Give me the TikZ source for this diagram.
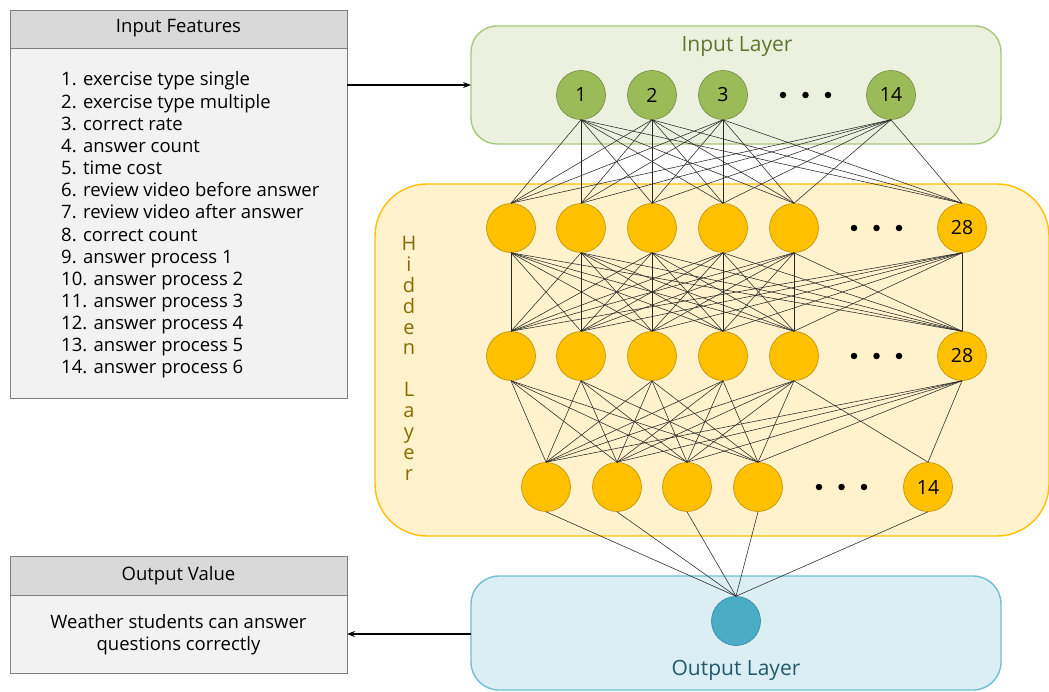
\documentclass[tikz,border=0pt]{standalone}
\usepackage{fontspec}
\setmainfont{Open Sans}
\usetikzlibrary{arrows.meta}
\definecolor{ibfill}{HTML}{EBF1DE}
\definecolor{ibdraw}{HTML}{A9C97A}
\definecolor{infill}{HTML}{9BBB59}
\definecolor{indraw}{HTML}{71893F}
\definecolor{ititle}{HTML}{5F7530}
\definecolor{hbfill}{HTML}{FFF2CC}
\definecolor{hbdraw}{HTML}{FFC000}
\definecolor{hnfill}{HTML}{FFC000}
\definecolor{hndraw}{HTML}{BF9000}
\definecolor{htitle}{HTML}{8A6A00}
\definecolor{obfill}{HTML}{DAEEF3}
\definecolor{obdraw}{HTML}{6FBFD5}
\definecolor{onfill}{HTML}{4BACC6}
\definecolor{ondraw}{HTML}{31859C}
\definecolor{otitle}{HTML}{215A6D}
\definecolor{grayhead}{HTML}{D9D9D9}
\definecolor{graybody}{HTML}{F2F2F2}
\definecolor{grayline}{HTML}{7F7F7F}
\tikzset{
  innode/.style={circle,minimum size=49pt,inner sep=0pt,fill=infill,draw=indraw,line width=0.6pt,font=\fontsize{19.5}{22}\selectfont},
  hnode/.style={circle,minimum size=49pt,inner sep=0pt,fill=hnfill,draw=hndraw,line width=0.6pt,font=\fontsize{19.5}{22}\selectfont},
  onode/.style={circle,minimum size=49pt,inner sep=0pt,fill=onfill,draw=ondraw,line width=0.6pt},
  conn/.style={draw=black!85,line width=0.55pt},
  dotmark/.style={circle,fill=black,inner sep=0pt,minimum size=6.5pt},
  arr/.style={-{Stealth[length=8pt,width=6pt]},line width=1.1pt},
  boxline/.style={draw=grayline,line width=0.9pt},
  txt/.style={font=\fontsize{18.5}{22}\selectfont,inner sep=0pt},
  layertitle/.style={font=\fontsize{21}{24}\selectfont},
}
\begin{document}
\begin{tikzpicture}[x=1pt,y=-1pt]
\useasboundingbox (0,0) rectangle (1049,692);
\fill[white] (0,0) rectangle (1049,692);

% ---- Input Features box
\draw[boxline,fill=grayhead] (10,10) rectangle (347,48);
\draw[boxline,fill=graybody] (10,48) rectangle (347,398);
\node[txt] (iftitle) at (178.5,28) {Input Features};
\foreach \t [count=\k] in {%
1. exercise type single,
2. exercise type multiple,
3. correct rate,
4. answer count,
5. time cost,
6. review video before answer,
7. review video after answer,
8. correct count,
9. answer process 1,
10. answer process 2,
11. answer process 3,
12. answer process 4,
13. answer process 5,
14. answer process 6}
  \node[txt,anchor=base west] (feat\k) at (61,{86+22.15*(\k-1)}) {\t};
\coordinate (ifout) at (347,85);

% ---- Output Value box
\draw[boxline,fill=grayhead] (10,556) rectangle (347,595);
\draw[boxline,fill=graybody] (10,595) rectangle (347,673);
\node[txt] (ovtitle) at (178.5,575.5) {Output Value};
\node[txt,anchor=base] (ovtext1) at (178.5,628.5) {Weather students can answer};
\node[txt,anchor=base] (ovtext2) at (178.5,650.5) {questions correctly};
\coordinate (ovin) at (347,634);

% ---- Layer boxes
\draw[fill=ibfill,draw=ibdraw,line width=1.4pt,rounded corners=26pt] (471,26) rectangle (1001,144);
\node[text=ititle,layertitle] (iltitle) at (737,47) {Input Layer};
\coordinate (ilin) at (471,85);

\draw[fill=hbfill,draw=hbdraw,line width=1.4pt,rounded corners=52pt] (375,184) rectangle (1049,536);
\foreach \l/\k in {H/0,i/1,d/2,d/3,e/4,n/5,L/7,a/8,y/9,e/10,r/11}
  \node[text=htitle,font=\fontsize{20}{24}\selectfont,anchor=base,inner sep=0pt] (hl\k) at (409,{250.5+20.9*\k}) {\l};

\draw[fill=obfill,draw=obdraw,line width=1.4pt,rounded corners=28pt] (471,576) rectangle (1001,690);
\node[text=otitle,layertitle] (oltitle) at (736,670) {Output Layer};
\coordinate (olout) at (471,634);

% ---- Input nodes
\node[innode] (i1) at (581,95) {1};
\node[innode] (i2) at (652,95) {2};
\node[innode] (i3) at (723,95) {3};
\node[innode] (i14) at (891,95) {14};
\node[dotmark] (id1) at (783,95) {};
\node[dotmark] (id2) at (805.5,95) {};
\node[dotmark] (id3) at (828,95) {};

% ---- Hidden 1
\node[hnode] (a1) at (511,228) {};
\node[hnode] (a2) at (581,228) {};
\node[hnode] (a3) at (652,228) {};
\node[hnode] (a4) at (723,228) {};
\node[hnode] (a5) at (794,228) {};
\node[hnode] (a28) at (962,228) {28};
\node[dotmark] (ad1) at (854,228) {};
\node[dotmark] (ad2) at (876.5,228) {};
\node[dotmark] (ad3) at (899,228) {};

% ---- Hidden 2
\node[hnode] (b1) at (511,356) {};
\node[hnode] (b2) at (581,356) {};
\node[hnode] (b3) at (652,356) {};
\node[hnode] (b4) at (723,356) {};
\node[hnode] (b5) at (794,356) {};
\node[hnode] (b28) at (962,356) {28};
\node[dotmark] (bd1) at (854,356) {};
\node[dotmark] (bd2) at (876.5,356) {};
\node[dotmark] (bd3) at (899,356) {};

% ---- Hidden 3
\node[hnode] (c1) at (546,487) {};
\node[hnode] (c2) at (617,487) {};
\node[hnode] (c3) at (687,487) {};
\node[hnode] (c4) at (758,487) {};
\node[hnode] (c14) at (928,487) {14};
\node[dotmark] (cd1) at (819,487) {};
\node[dotmark] (cd2) at (841.5,487) {};
\node[dotmark] (cd3) at (864,487) {};

% ---- Output node
\node[onode] (o1) at (736,621) {};

% ---- Connections
\foreach \s in {i1,i2,i3,i14}
  \foreach \t in {a1,a2,a3,a4,a5,a28}
    \draw[conn] (\s.south) -- (\t.north);
\foreach \s in {a1,a2,a3,a4,a5,a28}
  \foreach \t in {b1,b2,b3,b4,b5,b28}
    \draw[conn] (\s.south) -- (\t.north);
\foreach \s in {b1,b2,b3,b4,b5,b28}
  \foreach \t in {c1,c2,c3,c4}
    \draw[conn] (\s.south) -- (\t.north);
\foreach \s in {b5,b28}
  \draw[conn] (\s.south) -- (c14.north);
\foreach \s in {c1,c2,c3,c4,c14}
  \draw[conn] (\s.south) -- (o1.north);

% ---- Arrows
\draw[arr] (ifout) -- (ilin);
\draw[arr] (olout) -- (ovin);
\end{tikzpicture}
\end{document}
